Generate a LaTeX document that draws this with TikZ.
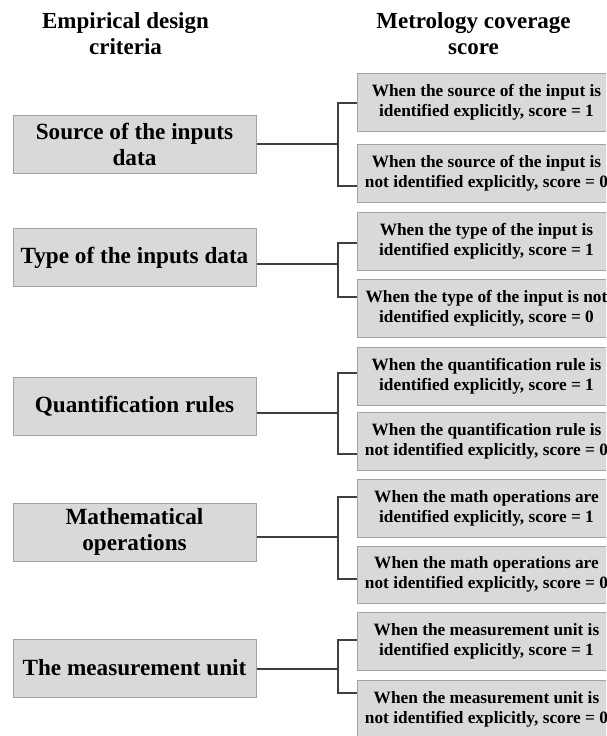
\documentclass[tikz,border=0pt]{standalone}
\usepackage{fontspec}
\setmainfont{Liberation Serif}
\usetikzlibrary{calc}

\definecolor{boxfill}{HTML}{D9D9D9}
\definecolor{boxline}{HTML}{A3A3A3}
\definecolor{linkcol}{HTML}{3F3F3F}

\tikzset{
  heading/.style={align=center, inner sep=0pt,
    font=\fontsize{23}{26}\selectfont\bfseries},
  critbox/.style={draw=boxline, fill=boxfill, line width=1pt, inner sep=0pt,
    minimum width=243pt, minimum height=58pt, align=center,
    font=\fontsize{23.2}{26}\selectfont\bfseries},
  scorebox/.style={draw=boxline, fill=boxfill, line width=1pt, inner sep=0pt,
    minimum width=258pt, minimum height=58pt, align=center,
    font=\fontsize{17.3}{20}\selectfont\bfseries},
  link/.style={draw=linkcol, line width=1.5pt}
}

\begin{document}
\begin{tikzpicture}[x=1pt, y=-1pt]
\useasboundingbox (0,0) rectangle (606,736);
\clip (0,0) rectangle (606,736);

% column headings
\node[heading] (h1) at (125.5,33.2) {Empirical design\\criteria};
\node[heading] (h2) at (473.5,33.2) {Metrology coverage\\score};

% design criteria
\node[critbox] (L1) at (134.5,144)   {Source of the inputs\\data};
\node[critbox] (L2) at (134.5,257.5) {Type of the inputs data};
\node[critbox] (L3) at (134.5,406.5) {Quantification rules};
\node[critbox] (L4) at (134.5,532)   {Mathematical\\operations};
\node[critbox] (L5) at (134.5,668)   {The measurement unit};

% coverage scores (boxes run past the right margin)
\begin{scope}[every node/.append style={anchor=west}]
\node[scorebox] (R1a) at (357,102)   {When the source of the input is\\identified explicitly, score = 1};
\node[scorebox] (R1b) at (357,173.5) {When the source of the input is\\not identified explicitly, score = 0};
\node[scorebox] (R2a) at (357,241)   {When the type of the input is\\identified explicitly, score = 1};
\node[scorebox] (R2b) at (357,308.5) {When the type of the input is not\\identified explicitly, score = 0};
\node[scorebox] (R3a) at (357,376)   {When the quantification rule is\\identified explicitly, score = 1};
\node[scorebox] (R3b) at (357,441.5) {When the quantification rule is\\not identified explicitly, score = 0};
\node[scorebox] (R4a) at (357,508.5) {When the math operations are\\identified explicitly, score = 1};
\node[scorebox, minimum height=57pt] (R4b) at (357,574.5) {When the math operations are\\not identified explicitly, score = 0};
\node[scorebox] (R5a) at (357,641)   {When the measurement unit is\\identified explicitly, score = 1};
\node[scorebox] (R5b) at (357,709)   {When the measurement unit is\\not identified explicitly, score = 0};
\end{scope}

% branching connectors
\draw[link] (L1.east |- 0,144) -- (338,144) coordinate (j1);
\draw[link] (R1a.west |- 0,103) -| (j1) |- (R1b.west |- 0,186);

\draw[link] (L2.east |- 0,264) -- (338,264) coordinate (j2);
\draw[link] (R2a.west |- 0,243) -| (j2) |- (R2b.west |- 0,297);

\draw[link] (L3.east |- 0,413) -- (338,413) coordinate (j3);
\draw[link] (R3a.west |- 0,373) -| (j3) |- (R3b.west |- 0,454);

\draw[link] (L4.east |- 0,537) -- (338,537) coordinate (j4);
\draw[link] (R4a.west |- 0,497) -| (j4) |- (R4b.west |- 0,579);

\draw[link] (L5.east |- 0,669) -- (338,669) coordinate (j5);
\draw[link] (R5a.west |- 0,640) -| (j5) |- (R5b.west |- 0,693);
\end{tikzpicture}
\end{document}
